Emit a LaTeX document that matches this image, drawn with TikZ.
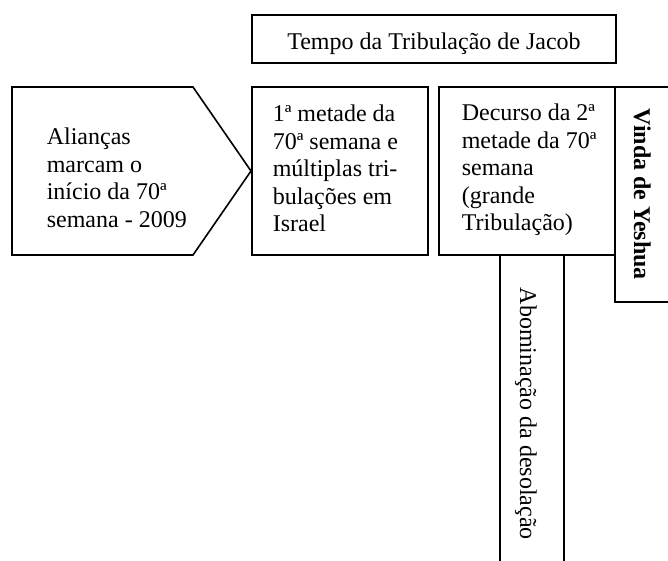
\documentclass[tikz,border=0pt]{standalone}
\usepackage{fontspec}
\setmainfont{Liberation Serif}
\usetikzlibrary{calc}

\begin{document}
\begin{tikzpicture}[x=0.5pt, y=-0.5pt, line width=0.8pt,
		boxtext/.style={anchor=north west, inner sep=0pt, align=left, font=\fontsize{12}{13.8}\selectfont},
		sidetext/.style={anchor=base west, inner sep=0pt, rotate=-90, font=\fontsize{12}{13.8}\selectfont}]
			\useasboundingbox (0,0) rectangle (668,561);

			\def\rowtop{87};
			\def\rowbot{255};

			\coordinate (tempo nw) at (252,15);
			\coordinate (tempo se) at (616,63);

			% top bar
			\draw (tempo nw) rectangle (tempo se);
			\node [anchor=base, inner sep=0pt, font=\fontsize{12}{13.8}\selectfont] (tempo) at (434,50) {Tempo da Tribulação de Jacob};

			% row of boxes
			\begin{scope}
				\draw (12,\rowtop) -- (193,\rowtop) -- (251,171) -- (193,\rowbot) -- (12,\rowbot) -- cycle;
				\draw (252,\rowtop) rectangle (428,\rowbot);
				\draw (439,\rowtop) rectangle (615,\rowbot);
				\draw (668,\rowtop) -- (615,\rowtop) -- (615,302) -- (668,302);
			\end{scope}

			% column below
			\begin{scope}
				\draw (500,\rowbot) -- (500,561);
				\draw (564,\rowbot) -- (564,561);
			\end{scope}

			\node [boxtext] (aliancas) at (46,127) {Alianças\\marcam o\\início da 70ª\\semana - 2009};
			\node [boxtext] (metade1) at (272,104) {1ª metade da\\70ª semana e\\múltiplas tri-\\bulações em\\Israel};
			\node [boxtext] (metade2) at (461,103) {Decurso da 2ª\\metade da 70ª\\semana\\(grande\\Tribulação)};

			\node [sidetext, font=\fontsize{12}{13.8}\selectfont\bfseries] (vinda) at (634,108) {Vinda de Yeshua};
			\node [sidetext] (abominacao) at (520,287) {Abominação da desolação};
		\end{tikzpicture}
\end{document}
